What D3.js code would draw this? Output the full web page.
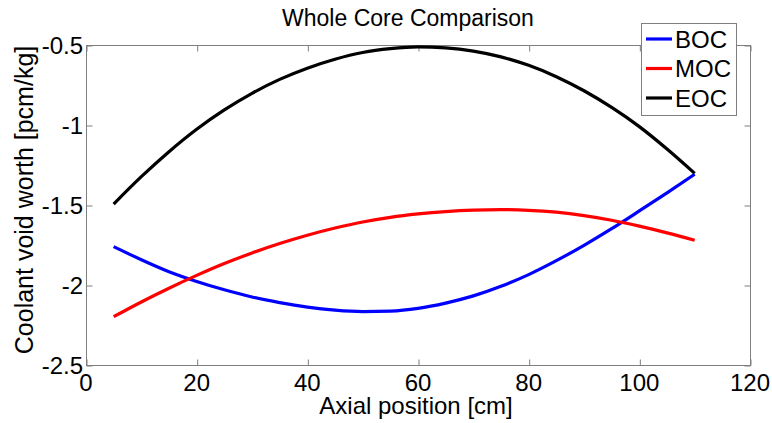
<!DOCTYPE html>
<html>
<head>
<meta charset="utf-8">
<script src="https://cdn.jsdelivr.net/npm/d3@7"></script>
<style>
  html, body { margin: 0; padding: 0; background: #fff; }
  svg text { font-family: "Liberation Sans", Arial, sans-serif; fill: #000; }
</style>
</head>
<body>
<svg id="chart" width="772" height="423"></svg>
<script>
// Axial positions (cm) shared by all three burnup states
const axialPos = [5, 10, 15, 20, 25, 30, 35, 40, 45, 50, 55, 60, 65, 70, 75, 80, 85, 90, 95, 100, 105, 110];

// Coolant void worth [pcm/kg] at beginning, middle and end of cycle
const bocWorth = [-1.76, -1.842, -1.917, -1.978, -2.03, -2.075, -2.11, -2.138, -2.157, -2.166, -2.163, -2.146,
                  -2.113, -2.068, -2.008, -1.935, -1.848, -1.752, -1.648, -1.537, -1.424, -1.308];
const mocWorth = [-2.198, -2.106, -2.02, -1.94, -1.866, -1.80, -1.741, -1.689, -1.644, -1.606, -1.577, -1.556,
                  -1.541, -1.532, -1.529, -1.533, -1.545, -1.566, -1.595, -1.632, -1.674, -1.72];
const eocWorth = [-1.494, -1.323, -1.167, -1.027, -0.906, -0.802, -0.715, -0.645, -0.589, -0.547, -0.523, -0.512,
                  -0.518, -0.538, -0.574, -0.627, -0.698, -0.786, -0.89, -1.01, -1.15, -1.302];

const seriesNames = ["BOC", "MOC", "EOC"];
const seriesColors = ["#0000ff", "#ff0000", "#000000"];

const xTicks = [0, 20, 40, 60, 80, 100, 120];
const yTicks = [-2.5, -2, -1.5, -1, -0.5];

const titleText = "Whole Core Comparison";
const xLabelText = "Axial position [cm]";
const yLabelText = "Coolant void worth [pcm/kg]";

const svg = d3.select("#chart");
const plot = { left: 86, top: 45, right: 750, bottom: 365 };
const axisColor = "#7f7f7f";

const x = d3.scaleLinear().domain([0, 120]).range([plot.left, plot.right]);
const y = d3.scaleLinear().domain([-2.5, -0.5]).range([plot.bottom, plot.top]);

// Axes box
svg.append("rect")
  .attr("x", plot.left + 0.5).attr("y", plot.top + 0.5)
  .attr("width", plot.right - plot.left).attr("height", plot.bottom - plot.top)
  .attr("fill", "none").attr("stroke", axisColor).attr("stroke-width", 1);

const tickLen = 6;
const fmt = d => String(d);

// Inward ticks on all four sides
const xAxisBottom = svg.append("g")
  .attr("transform", `translate(0.5,${plot.bottom + 0.5})`)
  .call(d3.axisTop(x).tickValues(xTicks).tickSize(tickLen).tickFormat(""));
const xAxisTop = svg.append("g")
  .attr("transform", `translate(0.5,${plot.top + 0.5})`)
  .call(d3.axisBottom(x).tickValues(xTicks).tickSize(tickLen).tickFormat(""));
const yAxisLeft = svg.append("g")
  .attr("transform", `translate(${plot.left + 0.5},0.5)`)
  .call(d3.axisRight(y).tickValues(yTicks).tickSize(tickLen).tickFormat(""));
const yAxisRight = svg.append("g")
  .attr("transform", `translate(${plot.right + 0.5},0.5)`)
  .call(d3.axisLeft(y).tickValues(yTicks).tickSize(tickLen).tickFormat(""));

[xAxisBottom, xAxisTop, yAxisLeft, yAxisRight].forEach(g => {
  g.select(".domain").remove();
  g.selectAll("line").attr("stroke", axisColor);
});

// Tick labels
svg.append("g").selectAll("text").data(xTicks).join("text")
  .attr("x", d => x(d)).attr("y", plot.bottom + 26)
  .attr("text-anchor", "middle").attr("font-size", 24)
  .text(d => fmt(d));

svg.append("g").selectAll("text").data(yTicks).join("text")
  .attr("x", plot.left - 3).attr("y", d => y(d) + 9)
  .attr("text-anchor", "end").attr("font-size", 24)
  .text(d => fmt(d));

// Series lines
const line = d3.line().x(d => x(d[0])).y(d => y(d[1])).curve(d3.curveMonotoneX);
const seriesValues = [bocWorth, mocWorth, eocWorth];

seriesValues.forEach((vals, i) => {
  svg.append("path")
    .datum(axialPos.map((p, j) => [p, vals[j]]))
    .attr("d", line)
    .attr("fill", "none")
    .attr("stroke", seriesColors[i])
    .attr("stroke-width", 3.2)
    .attr("stroke-linejoin", "round");
});

// Title and axis labels
svg.append("text")
  .attr("x", 408).attr("y", 26)
  .attr("text-anchor", "middle").attr("font-size", 23)
  .text(titleText);

svg.append("text")
  .attr("x", 416).attr("y", 414)
  .attr("text-anchor", "middle").attr("font-size", 24)
  .text(xLabelText);

svg.append("text")
  .attr("transform", `translate(33,200) rotate(-90)`)
  .attr("text-anchor", "middle").attr("font-size", 25)
  .text(yLabelText);

// Legend
const legend = svg.append("g").attr("transform", "translate(641,23)");
legend.append("rect")
  .attr("x", 0.5).attr("y", 0.5).attr("width", 95).attr("height", 92)
  .attr("fill", "#fff").attr("stroke", axisColor);

seriesNames.forEach((name, i) => {
  const cy = 16 + i * 29.5;
  legend.append("line")
    .attr("x1", 5).attr("x2", 31).attr("y1", cy).attr("y2", cy)
    .attr("stroke", seriesColors[i]).attr("stroke-width", 3.2);
  legend.append("text")
    .attr("x", 34).attr("y", cy + 8.5)
    .attr("font-size", 24)
    .text(name);
});
</script>
</body>
</html>
